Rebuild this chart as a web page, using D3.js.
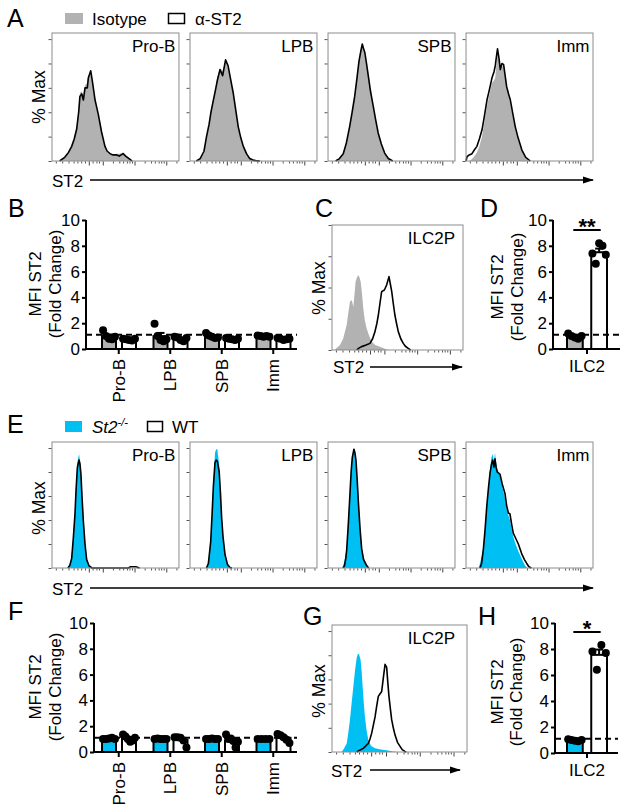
<!DOCTYPE html>
<html><head><meta charset="utf-8">
<script src="https://cdn.jsdelivr.net/npm/d3@7"></script>
<style>
body{margin:0;background:#fff}
svg{display:block;font-family:"Liberation Sans",Arial,sans-serif}
</style></head><body>
<svg id="chart" width="625" height="809"></svg>
<script>
// ---------------- DATA ----------------
const cellGroups = ["Pro-B", "LPB", "SPB", "Imm"];
const ilcGroup = ["ILC2"];
const yTickValues = [0, 2, 4, 6, 8, 10];
const dashedRef = 1.1;

// Histograms: [ST2 channel (0-100 display units), % Max]
const aProBIso = [[7,0],[10,3],[13,6],[15.5,11],[17.5,19],[19.4,28],[21,42],[22,56],[23.4,57],[24.7,54],[26,62],[27.8,64],[28.6,70],[30,72],[32,63],[33.9,48],[36.5,36],[39,23],[41.7,11],[43.5,7],[45.7,5],[48,4.5],[51,6],[53,6],[56,7],[58,5],[61.4,2],[64,0]];
const aProBAnti = [[6,0],[10,3],[13,7],[15.5,12],[17.5,18],[19.4,26],[21,40],[22,53],[23.4,55],[24.7,50],[26,60],[27.8,60],[28.6,68],[30.5,74],[32,64],[33.9,50],[36.5,38],[39,24],[41.7,12],[43.5,8],[45.7,6],[48,5],[51,5],[53,4],[56,6],[58,4],[61.4,1.4],[63,0]];
const aLPBIso = [[5,0],[8,2],[11,7],[13,19],[15,29],[16.5,40],[18.4,51],[20,60],[21.5,69],[23.6,76],[25.7,74],[28,81],[30,76],[32,66],[34,55],[36,41],[38,27],[40,18],[42,12],[44.5,6],[47,3],[50,1.5],[56,0]];
const aLPBAnti = [[5,0],[8,2],[11,8],[13,20],[15,30],[16.5,40],[18.4,50],[20,58],[21.5,66],[23.6,75],[25.7,70],[28,83],[30,78],[32,67],[34,56],[36,42],[38,28],[40,19],[42,12],[44.5,6],[47,2],[50,0.5],[55,0]];
const aSPBIso = [[6,0],[9,2],[12,6],[14.5,14],[17,27],[19,40],[21,54],[22.8,69],[24.4,83],[25.8,91],[27,94],[28,91],[29,88],[30.3,79],[31.7,70],[33.5,57],[35.6,44],[37.5,33],[39.5,22],[42,13],[44.6,6],[47.5,2],[51,0]];
const aSPBAnti = [[6,0],[9,2],[12,6],[14.5,15],[17,28],[19,40],[21,53],[22.8,68],[24.4,82],[25.8,90],[27,96],[28,92],[29,89],[30.3,80],[31.7,70],[33.5,57],[35.6,45],[37.5,34],[39.5,23],[42,14],[44.6,6.5],[47.5,2],[51,0]];
const aImmIso = [[3,0],[6,3],[8.6,7],[10.5,12],[12.6,20],[14.5,32],[16.5,45],[18.5,55],[20.4,64],[22,66],[23,68],[24,80],[24.8,88],[26,82],[27,76],[28.3,78],[29.6,77],[30.8,68],[32,60],[33.5,53],[34.9,47],[36.8,37],[38.8,27],[41,17],[44,8],[47,2],[50,0]];
const aImmAnti = [[0,0],[0.8,3.6],[2.5,5],[4.7,6],[6.5,9],[8.6,12],[10.5,18],[12.6,25.6],[14.5,37],[16.5,50],[18.5,59],[20.4,68],[22,73],[23,78],[24,86],[24.8,92],[26,84],[27,75],[28.3,80],[29.6,79],[30.8,70],[32,61],[33.5,55],[34.9,50],[36.8,39],[38.8,28],[41,19],[44,9],[47,3],[50.6,0]];

const cIso = [[2,0],[4,2],[6.1,4],[8.5,9],[11.2,20],[12.5,30],[13.7,38.7],[15,40],[16.3,34.7],[17.2,45],[18,54.7],[19,58],[20,60],[21,58],[21.9,54.7],[23,44],[23.9,33],[25,24],[26.5,17],[28.5,11],[30.3,6.7],[33,4],[36.6,2.7],[41.7,0.5],[44,0]];
const cAnti = [[18.8,0],[20.5,1.5],[22.6,2.7],[26,4],[29,5.3],[31,9],[32.8,14.7],[34.2,21],[35.4,28],[36.7,38],[37.9,46.7],[40,48],[41.7,52],[43.5,58.7],[44.5,53],[45.6,46.7],[46.8,37],[48,28],[49.3,21],[50.6,14.7],[52.5,9],[54.4,5.3],[56,3],[58.2,1.3],[60,0]];

const eProBKO = [[12,0],[14,3],[15.5,10],[16.8,28],[18.1,48],[19,70],[20,88],[21.3,95],[22,90],[22.8,80],[23.7,60],[24.7,41],[26,22],[27.3,8],[29,3],[31.2,0]];
const eProBWT = [[12.5,0],[14,2],[15.5,8],[16.8,25],[18.1,45],[19,66],[20,84],[21.3,90],[22,87],[22.8,78],[23.7,58],[24.7,39],[26,20],[27.3,7],[29,2],[31.5,0],[60,0],[62,1],[66,1],[69,0]];
const eLPBKO = [[12.5,0],[14.5,5],[16.3,24],[17.4,48],[18.4,72],[19.7,96],[20.6,99],[21.5,99],[23,86],[24,65],[24.9,45],[26,28],[27.6,12],[29.5,4],[31.5,1],[33,0]];
const eLPBWT = [[13,0],[14.5,4],[16.3,22],[17.4,45],[18.4,68],[19.7,88],[20.6,90],[21.5,89],[23,80],[24,62],[24.9,42],[26,26],[27.6,11],[29.5,3],[31.5,0.5],[33,0]];
const eSPBKO = [[11,0],[12.5,4],[14,12],[14.7,18],[16,40],[17.3,65],[18.2,82],[19.1,93],[20.4,100],[21.2,97],[22,91],[23,75],[23.9,57],[25.2,36],[26.5,18],[28,9],[30.4,3],[32,0]];
const eSPBWT = [[12,0],[13,2],[14,8],[14.7,15],[16,37],[17.3,62],[18.2,80],[19.1,92],[20.4,99],[21.2,96],[22,90],[23,73],[23.9,55],[25.2,33],[26.5,16],[28,7],[30.4,2],[32,0]];
const eImmKO = [[10,0],[11.5,6],[13.6,17],[15,33],[16.3,53],[17.6,68],[18.9,82],[20,92],[21,95],[22,88],[22.8,96],[23.7,88],[24.6,82],[25.7,80],[26.8,76],[28.5,68],[30.7,58],[32,50],[33.3,44],[34.6,40],[36,32],[37.2,26],[39,20],[41.2,14],[43.8,8],[46,3],[48,0]];
const eImmWT = [[11,0],[12.3,4],[13.6,15],[15,32],[16.3,51],[17.6,66],[18.9,79],[20,86],[21,90],[22,84],[22.8,91],[23.7,84],[24.6,80],[25.7,79],[26.8,78],[28.5,70],[30.7,62],[32,52],[33.3,46],[34.6,45],[36,36],[37.2,29],[39,25],[41.2,20],[43.8,12],[46,7],[47.7,4],[49.5,1],[51.5,0]];

const gKO = [[7.2,0],[9,3],[10.9,7],[12,15],[13.3,26.7],[14.5,40],[15.8,54],[17,67],[18.3,78],[19.2,81],[20,81],[21.2,76],[22,66],[22.7,54],[23.5,41],[24.4,29],[25.6,18],[26.9,10],[29,5],[31.9,3],[36,2],[40.5,1.5],[45,0.5],[49,0]];
const gWT = [[18.3,0],[20.5,1.5],[23.2,3],[25,5],[26.9,7],[28.2,11],[29.4,15.6],[30.6,22],[31.9,29],[33.1,38],[34.3,46],[35.5,48],[36.8,50],[38,61],[39.3,72.5],[40.5,70],[41.3,58],[42.2,46],[43.2,36],[44.2,26.7],[45.4,20],[46.7,14],[48.5,8],[50.4,4.7],[52,2],[54,0.5],[55,0]];

const histMajorTicks = [29, 40, 65, 90];
const histMinorTicks = [3, 8, 13, 17, 20, 23, 26, 32, 35, 37, 48, 53, 56, 59, 61, 63, 73, 78, 81, 84, 86, 88, 98];

// MFI fold change (individual mice)
const bIsotype = [[1.45,1.0,0.8,0.75,0.95],[1.95,1.0,0.7,0.6,0.75],[1.25,1.05,0.95,0.85,0.9],[1.05,1.0,0.95,1.0,0.95]];
const bAntiST2 = [[0.8,0.75,0.7,0.65,0.8],[0.95,0.9,0.7,0.6,0.85],[0.85,0.8,0.75,0.7,0.8],[0.85,0.8,0.7,0.75,0.8]];
const dIsotype = [[1.2,1.0,0.9,0.8,1.0]];
const dAntiST2 = [[7.4,6.6,8.2,8.0,7.3]];
const fSt2KO = [[1.0,1.0,1.05,1.1,1.0],[1.0,1.05,1.0,1.0,1.0],[1.0,1.0,1.05,1.0,1.0],[1.0,1.0,1.0,1.0]];
const fWT = [[1.35,1.2,1.0,0.8,0.9,1.1],[1.15,1.15,1.1,0.9,0.35],[1.35,1.0,1.05,0.85,0.35,0.8],[1.4,1.3,1.15,0.95,0.7]];
const hSt2KO = [[1.05,1.0,0.95,0.9,1.0]];
const hWT = [[7.8,6.4,8.3,7.7]];

// ---------------- DRAWING ----------------
const GRAY = "#b2b2b2", CYAN = "#00bff2", FRAME = "#8c8c8c";
const svg = d3.select("#chart");

const defs = svg.append("defs");
defs.append("marker").attr("id", "arrow").attr("markerUnits", "userSpaceOnUse")
  .attr("markerWidth", 11).attr("markerHeight", 8).attr("refX", 10).attr("refY", 4)
  .attr("orient", "auto")
  .append("path").attr("d", "M0,0.5 L11,4 L0,7.5 Z").attr("fill", "#000");

function letter(t, x, y) {
  svg.append("text").attr("x", x).attr("y", y).attr("font-size", 25).attr("fill", "#000").text(t);
}

function rotatedLabel(t, cx, cy, size) {
  svg.append("text").attr("transform", `translate(${cx},${cy}) rotate(-90)`)
    .attr("text-anchor", "middle").attr("dy", "0.35em").attr("font-size", size).text(t);
}

function st2Axis(x, yBase, lineY, x1, x2) {
  svg.append("text").attr("x", x).attr("y", yBase).attr("font-size", 17).text("ST2");
  svg.append("line").attr("x1", x1).attr("x2", x2).attr("y1", lineY).attr("y2", lineY)
    .attr("stroke", "#000").attr("stroke-width", 1.5).attr("marker-end", "url(#arrow)");
}

function histPanel(o) {
  const g = svg.append("g");
  const xs = d3.scaleLinear().domain([0, 100]).range([o.x, o.x + o.w]);
  const ys = d3.scaleLinear().domain([0, o.yMax]).range([o.y + o.h, o.y]);
  g.append("path").datum(o.fillData)
    .attr("d", d3.area().x(d => xs(d[0])).y0(ys(0)).y1(d => ys(d[1])))
    .attr("fill", o.fillColor);
  g.append("path").datum(o.lineData)
    .attr("d", d3.line().x(d => xs(d[0])).y(d => ys(d[1])))
    .attr("fill", "none").attr("stroke", "#000").attr("stroke-width", 1.6).attr("stroke-linejoin", "round");
  g.append("rect").attr("x", o.x).attr("y", o.y).attr("width", o.w).attr("height", o.h)
    .attr("fill", "none").attr("stroke", FRAME).attr("stroke-width", 1);
  const ya = g.append("g").attr("transform", `translate(${o.x - 0.5},0)`)
    .call(d3.axisLeft(ys).tickValues(o.yTicks).tickSize(3).tickFormat(""));
  ya.select(".domain").remove();
  ya.selectAll("line").attr("stroke", "#555");
  const xa = g.append("g").attr("transform", `translate(0,${o.y + o.h + 0.5})`)
    .call(d3.axisBottom(xs).tickValues(histMajorTicks).tickSize(4).tickFormat(""));
  xa.select(".domain").remove();
  xa.selectAll("line").attr("stroke", "#444");
  const xm = g.append("g").attr("transform", `translate(0,${o.y + o.h + 0.5})`)
    .call(d3.axisBottom(xs).tickValues(histMinorTicks).tickSize(2).tickFormat(""));
  xm.select(".domain").remove();
  xm.selectAll("line").attr("stroke", "#555");
  g.append("text").attr("x", o.x + o.w - o.labelPad).attr("y", o.y + 19)
    .attr("text-anchor", "end").attr("font-size", 17).text(o.label);
}

function barPanel(o) {
  const g = svg.append("g");
  const y = d3.scaleLinear().domain([0, 10]).range([o.y0, o.y10]);
  const x = d3.scaleBand().domain(o.groups).range(o.bandRange);
  const sub = d3.scaleBand().domain([0, 1]).range(o.subRange).paddingInner(o.subPad);
  const bw = sub.bandwidth();

  o.series.forEach((s, si) => {
    o.groups.forEach((grp, gi) => {
      const pts = s.points[gi];
      const m = d3.mean(pts);
      const sem = d3.deviation(pts) / Math.sqrt(pts.length);
      const bx = x(grp) + sub(si);
      g.append("rect").attr("x", bx).attr("y", y(m)).attr("width", bw).attr("height", y(0) - y(m))
        .attr("fill", s.fill).attr("stroke", "#000").attr("stroke-width", 2);
      const cx = bx + bw / 2;
      g.append("line").attr("x1", cx).attr("x2", cx).attr("y1", y(m)).attr("y2", y(m + sem))
        .attr("stroke", "#000").attr("stroke-width", 2);
      g.append("line").attr("x1", cx - 4).attr("x2", cx + 4).attr("y1", y(m + sem)).attr("y2", y(m + sem))
        .attr("stroke", "#000").attr("stroke-width", 2);
      const n = pts.length;
      pts.forEach((v, i) => {
        const off = n > 1 ? (i / (n - 1) - 0.5) * bw * 0.85 : 0;
        g.append("circle").attr("cx", cx + off).attr("cy", y(v)).attr("r", 4).attr("fill", "#000");
      });
    });
  });

  // dashed reference
  g.append("line").attr("x1", o.axisX).attr("x2", o.axisRight).attr("y1", y(dashedRef)).attr("y2", y(dashedRef))
    .attr("stroke", "#000").attr("stroke-width", 2).attr("stroke-dasharray", "6,4");

  // y axis
  const ya = g.append("g").attr("transform", `translate(${o.axisX},0)`)
    .call(d3.axisLeft(y).tickValues(yTickValues).tickSize(4).tickPadding(2).tickFormat(d3.format("d")));
  ya.select(".domain").attr("stroke-width", 2).attr("d", `M0,${y(10)}V${y(0)}`);
  ya.selectAll(".tick line").attr("stroke-width", 2);
  ya.selectAll("text").attr("font-size", 17).attr("font-family", '"Liberation Sans", Arial, sans-serif').attr("fill", "#000");

  // x axis
  g.append("line").attr("x1", o.axisX - 1).attr("x2", o.axisRight).attr("y1", y(0)).attr("y2", y(0))
    .attr("stroke", "#000").attr("stroke-width", 2);
  o.groups.forEach(grp => {
    const cx = x(grp) + x.bandwidth() / 2;
    g.append("line").attr("x1", cx).attr("x2", cx).attr("y1", y(0)).attr("y2", y(0) + 5)
      .attr("stroke", "#000").attr("stroke-width", 2);
    if (o.rotateLabels) {
      g.append("text").attr("transform", `translate(${cx},${y(0) + 10}) rotate(-90)`)
        .attr("text-anchor", "end").attr("dy", "0.35em").attr("font-size", 17).text(grp);
    } else {
      g.append("text").attr("x", cx).attr("y", y(0) + 23).attr("text-anchor", "middle")
        .attr("font-size", 17).text(grp);
    }
  });

  if (o.sig) {
    const c = x(o.groups[0]);
    const x1 = c + sub(0) + bw * 0.4, x2 = c + sub(1) + bw * 0.6;
    g.append("line").attr("x1", x1).attr("x2", x2).attr("y1", o.sigY).attr("y2", o.sigY)
      .attr("stroke", "#000").attr("stroke-width", 2);
    g.append("text").attr("x", (x1 + x2) / 2).attr("y", o.sigY + 4).attr("text-anchor", "middle")
      .attr("font-size", 22).attr("font-weight", "bold").text(o.sig);
  }

  rotatedLabel("MFI ST2", o.titleX1, o.titleCY, 17);
  rotatedLabel("(Fold Change)", o.titleX2, o.titleCY, 17);
}

// ---- Panel A ----
letter("A", 7, 27);
svg.append("rect").attr("x", 65).attr("y", 13).attr("width", 18).attr("height", 11).attr("fill", GRAY);
svg.append("text").attr("x", 92).attr("y", 25).attr("font-size", 17).text("Isotype");
svg.append("rect").attr("x", 168.5).attr("y", 13.5).attr("width", 16).attr("height", 10)
  .attr("fill", "#fff").attr("stroke", "#000").attr("stroke-width", 1.5);
svg.append("text").attr("x", 195).attr("y", 25).attr("font-size", 17).text("α-ST2");

const frameBand = d3.scaleBand().domain(cellGroups).range([52, 593]).paddingInner(0.08);
const aFill = [aProBIso, aLPBIso, aSPBIso, aImmIso];
const aLine = [aProBAnti, aLPBAnti, aSPBAnti, aImmAnti];
cellGroups.forEach((grp, i) => histPanel({
  x: frameBand(grp), y: 33, w: frameBand.bandwidth(), h: 128, yMax: 105,
  yTicks: [0, 20, 40, 60, 80, 100], fillData: aFill[i], lineData: aLine[i],
  fillColor: GRAY, label: grp, labelPad: 3.5
}));
rotatedLabel("% Max", 39, 97, 17.5);
st2Axis(52, 187, 180, 90, 593);

// ---- Panel B ----
letter("B", 8, 217);
barPanel({
  groups: cellGroups, y0: 349, y10: 220, axisX: 86, axisRight: 297,
  bandRange: [93, 299], subRange: [9, 43], subPad: 0.3,
  series: [{ points: bIsotype, fill: GRAY }, { points: bAntiST2, fill: "#fff" }],
  rotateLabels: true, titleX1: 35, titleX2: 55, titleCY: 284
});

// ---- Panel C ----
letter("C", 315, 217);
histPanel({
  x: 332, y: 225, w: 131, h: 125, yMax: 100, yTicks: [0, 25, 50, 75, 100],
  fillData: cIso, lineData: cAnti, fillColor: GRAY, label: "ILC2P", labelPad: 8
});
rotatedLabel("% Max", 319, 288, 17.5);
st2Axis(333, 373, 367, 370, 462);

// ---- Panel D ----
letter("D", 480, 217);
barPanel({
  groups: ilcGroup, y0: 349, y10: 220, axisX: 553, axisRight: 620,
  bandRange: [553, 621], subRange: [14, 54], subPad: 0.35,
  series: [{ points: dIsotype, fill: GRAY }, { points: dAntiST2, fill: "#fff" }],
  rotateLabels: false, sig: "**", sigY: 230, titleX1: 497, titleX2: 517, titleCY: 287
});

// ---- Panel E ----
letter("E", 7, 433);
svg.append("rect").attr("x", 65).attr("y", 421).attr("width", 17).attr("height", 11).attr("fill", CYAN);
const eLeg = svg.append("text").attr("x", 92).attr("y", 433).attr("font-size", 17);
eLeg.append("tspan").attr("font-style", "italic").text("St2");
eLeg.append("tspan").attr("font-style", "italic").attr("font-size", 11).attr("dy", -7).text("-/-");
svg.append("rect").attr("x", 147.5).attr("y", 421.5).attr("width", 15).attr("height", 10)
  .attr("fill", "#fff").attr("stroke", "#000").attr("stroke-width", 1.5);
svg.append("text").attr("x", 172).attr("y", 433).attr("font-size", 17).text("WT");

const eFill = [eProBKO, eLPBKO, eSPBKO, eImmKO];
const eLine = [eProBWT, eLPBWT, eSPBWT, eImmWT];
cellGroups.forEach((grp, i) => histPanel({
  x: frameBand(grp), y: 442, w: frameBand.bandwidth(), h: 126, yMax: 105,
  yTicks: [0, 20, 40, 60, 80, 100], fillData: eFill[i], lineData: eLine[i],
  fillColor: CYAN, label: grp, labelPad: 3.5
}));
rotatedLabel("% Max", 39, 508, 17.5);
st2Axis(52, 595, 588, 90, 593);

// ---- Panel F ----
letter("F", 8, 620);
barPanel({
  groups: cellGroups, y0: 752, y10: 623, axisX: 94, axisRight: 297,
  bandRange: [93, 299], subRange: [9, 43], subPad: 0.3,
  series: [{ points: fSt2KO, fill: CYAN }, { points: fWT, fill: "#fff" }],
  rotateLabels: true, titleX1: 35, titleX2: 55, titleCY: 687
});

// ---- Panel G ----
letter("G", 303, 625);
histPanel({
  x: 332, y: 625, w: 135, h: 127, yMax: 105, yTicks: [0, 20, 40, 60, 80, 100],
  fillData: gKO, lineData: gWT, fillColor: CYAN, label: "ILC2P", labelPad: 12
});
rotatedLabel("% Max", 319, 691, 17.5);
st2Axis(331, 777, 770, 370, 460);

// ---- Panel H ----
letter("H", 478, 625);
barPanel({
  groups: ilcGroup, y0: 753, y10: 623, axisX: 555, axisRight: 618,
  bandRange: [553, 621], subRange: [14, 54], subPad: 0.35,
  series: [{ points: hSt2KO, fill: CYAN }, { points: hWT, fill: "#fff" }],
  rotateLabels: false, sig: "*", sigY: 632, titleX1: 497, titleX2: 516, titleCY: 692
});
</script>
</body></html>
